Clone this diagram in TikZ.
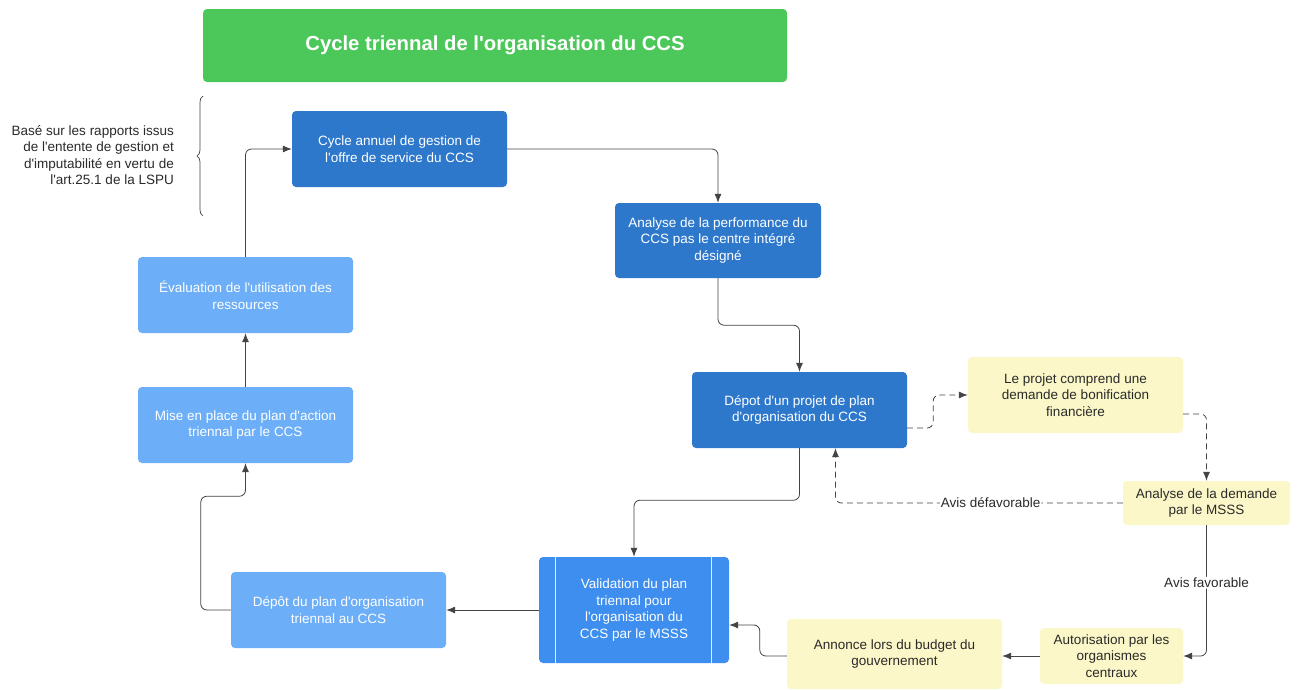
\documentclass[tikz,border=0pt]{standalone}
\usepackage{fontspec}
\setmainfont{Liberation Sans}[Ligatures=TeXOff]
\usetikzlibrary{arrows.meta,calc,decorations.pathreplacing}
\definecolor{dblue}{HTML}{2E78CC}
\definecolor{lblue}{HTML}{6CAEF7}
\definecolor{mblue}{HTML}{3D8EEF}
\definecolor{pyellow}{HTML}{FBF7C8}
\definecolor{tgreen}{HTML}{4CC85A}
\definecolor{lineg}{HTML}{444444}
\definecolor{txtg}{HTML}{2A2A2A}
\tikzset{
  box/.style={rectangle,rounded corners=4pt,align=center,inner sep=2pt,
    font=\fontsize{13.5}{16.5}\selectfont},
  darkbox/.style={box,fill=dblue,text=white},
  lightbox/.style={box,fill=lblue,text=white},
  midbox/.style={box,fill=mblue,text=white},
  yelbox/.style={box,fill=pyellow,text=txtg},
  arr/.style={draw=lineg,line width=0.8pt,rounded corners=6pt,-{Latex[length=9pt,width=7pt]}},
  darr/.style={arr,dash pattern=on 6pt off 4pt},
  lbl/.style={fill=white,text=txtg,inner sep=1pt,font=\fontsize{13.5}{16.5}\selectfont}
}
\begin{document}
\begin{tikzpicture}[x=1pt,y=-1pt]
\useasboundingbox (0,0) rectangle (1298,689);
\fill[white] (0,0) rectangle (1298,689);
% title
\node[rectangle,rounded corners=4pt,fill=tgreen,text=white,minimum width=584pt,minimum height=73pt,
  font=\fontsize{20.3}{24}\selectfont\bfseries] (T) at (495,45.5) {Cycle triennal de l'organisation du CCS};
% boxes
\node[darkbox,minimum width=215pt,minimum height=76pt] (A) at (399.5,149) {Cycle annuel de gestion de\\l'offre de service du CCS};
\node[darkbox,minimum width=206pt,minimum height=75pt] (B) at (718,240.5) {Analyse de la performance du\\CCS pas le centre intégré\\désigné};
\node[darkbox,minimum width=215pt,minimum height=76pt] (C) at (799.5,410) {Dépot d'un projet de plan\\d'organisation du CCS};
\node[yelbox,minimum width=215pt,minimum height=76pt] (D) at (1075.5,395) {Le projet comprend une\\demande de bonification\\financière};
\node[yelbox,minimum width=167pt,minimum height=44pt] (E) at (1206.5,503) {Analyse de la demande\\par le MSSS};
\node[yelbox,minimum width=143pt,minimum height=56pt] (F) at (1111.5,656) {Autorisation par les\\organismes\\centraux};
\node[yelbox,minimum width=215pt,minimum height=70pt] (G) at (894.5,654) {Annonce lors du budget du\\gouvernement};
\node[midbox,minimum width=190pt,minimum height=106pt] (H) at (634,610) {Validation du plan\\triennal pour\\l'organisation du\\CCS par le MSSS};
\draw[white!85!mblue,line width=1pt] ($(H.north west)+(17,0)$) -- ($(H.south west)+(17,0)$);
\draw[white!85!mblue,line width=1pt] ($(H.north east)+(-18,0)$) -- ($(H.south east)+(-18,0)$);
\node[lightbox,minimum width=215pt,minimum height=76pt] (I) at (338.5,610) {Dépôt du plan d'organisation\\triennal au CCS};
\node[lightbox,minimum width=215pt,minimum height=76pt] (J) at (245.5,425) {Mise en place du plan d'action\\triennal par le CCS};
\node[lightbox,minimum width=215pt,minimum height=76pt] (K) at (245.5,295) {Évaluation de l'utilisation des\\ressources};
% side note and brace
\node[align=right,anchor=east,text=txtg,inner sep=0pt,font=\fontsize{13.5}{16.5}\selectfont] (N) at (174,155)
  {Basé sur les rapports issus\\de l'entente de gestion et\\d'imputabilité en vertu de\\l'art.25.1 de la LSPU};
\draw[lineg,line width=0.7pt,decorate,decoration={brace,amplitude=6pt}] (203,216) -- (203,96);
% connectors
\draw[arr] (K.north) |- (A.west);
\draw[arr] (A.east) -| (B.north);
\draw[arr] (B.south) -- ++(0,47) -| (C.north);
\draw[arr] (C.south) -- ++(0,52) -| (H.north);
\draw[darr] ($(C.east)+(0,18)$) -- ++(26,0) |- (D.west);
\draw[darr] ($(D.east)+(0,19)$) -| (E.north);
\draw[darr] (E.west) -| ($(C.south)+(36,0)$) node[lbl,pos=0.23] {Avis défavorable};
\draw[arr] (E.south) |- (F.east) node[lbl,pos=0.22] {Avis favorable};
\draw[arr] (F.west) -- (F.west -| G.east);
\draw[arr] ($(G.west)+(0,2)$) -- ++(-27,0) |- ($(H.east)+(0,15)$);
\draw[arr] (H.west) -- (I.east);
\draw[arr] (I.west) -- ++(-30,0) |- ($(J.south)+(0,33)$) -- (J.south);
\draw[arr] (J.north) -- (K.south);
\end{tikzpicture}
\end{document}
